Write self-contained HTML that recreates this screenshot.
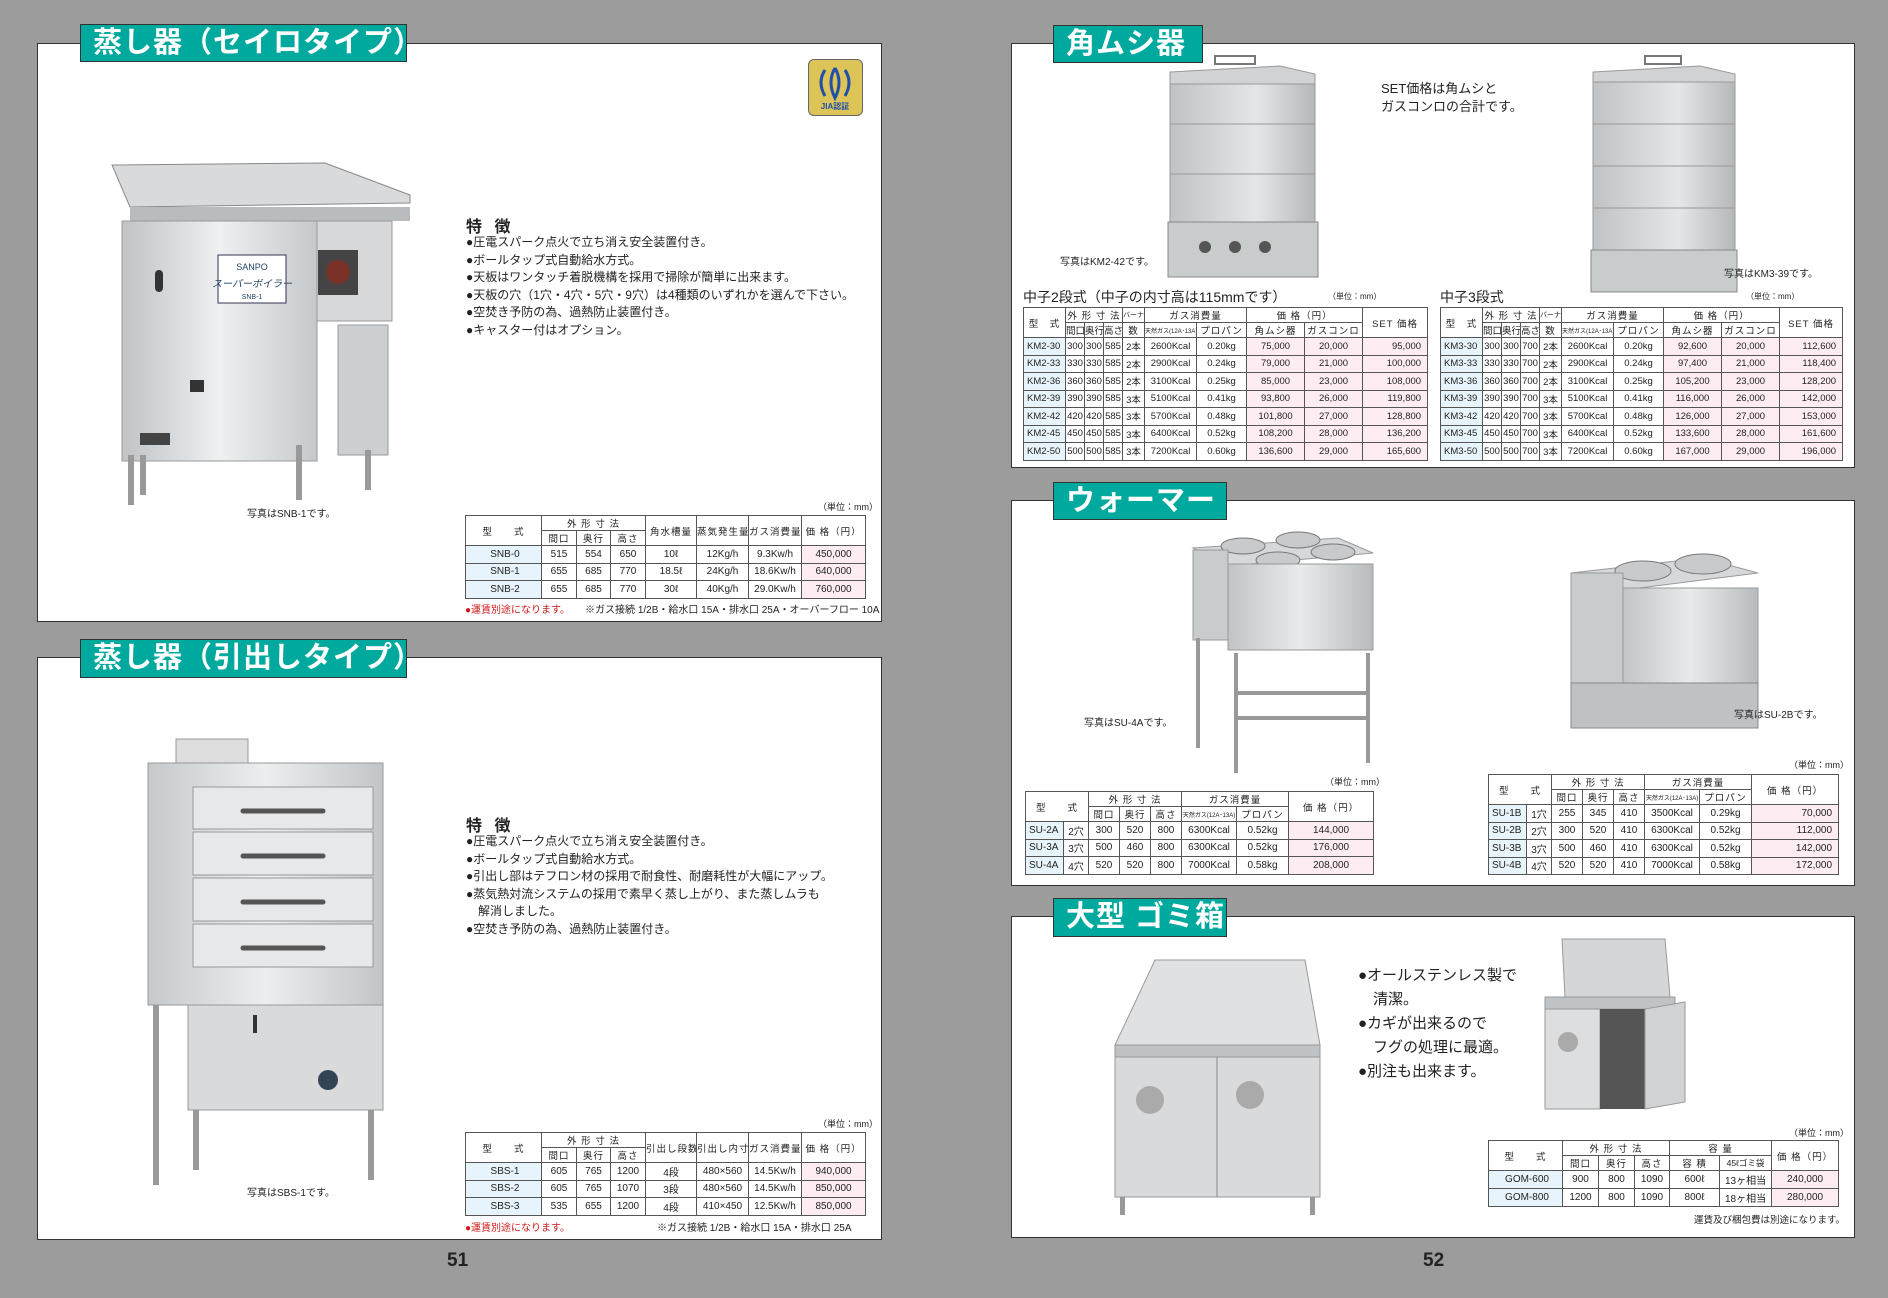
<!DOCTYPE html>
<html><head><meta charset="utf-8"><style>
*{margin:0;padding:0;box-sizing:border-box}
body{width:1888px;height:1298px;background:#9c9c9c;position:relative;overflow:hidden;font-family:"Liberation Sans","Noto Sans CJK JP",sans-serif;color:#222}
.a{position:absolute}
.panel{position:absolute;background:#fff;border:1.5px solid #333}
.tab{position:absolute;background:#00a99d;border:1.5px solid #333;color:#fff;font-weight:bold;font-size:29px;line-height:36px;padding-left:12px;white-space:nowrap;letter-spacing:1px}
.t{position:absolute;border-collapse:collapse;table-layout:fixed;font-size:10px;background:#fff}
.t td{border:1px solid #555;text-align:center;padding:0;white-space:nowrap;overflow:hidden}
.t .h{font-size:9.5px;letter-spacing:1px}
.t .m{background:#e8f4fb;text-align:left;padding-left:3px}
.t .p{background:#fdedf3}
.t .r{text-align:right;padding-right:6px}
.s{font-size:10px;position:absolute;white-space:nowrap}
.f{position:absolute;font-size:12px;line-height:17.6px;white-space:nowrap}
.pg{position:absolute;font-size:19px;font-weight:bold;top:1250px}
</style></head><body>

<!-- LEFT PANEL 1 -->
<div class="panel" style="left:37px;top:43px;width:845px;height:579px"></div>
<div class="tab" style="left:80px;top:24px;width:327px;height:38px">蒸し器（セイロタイプ）</div>
<div class="a" style="left:808px;top:59px;width:55px;height:57px;background:#dcc458;border:1.5px solid #666;border-radius:6px">
<svg width="52" height="54"><g fill="none" stroke="#1f4fa8" stroke-width="3"><path d="M16 10 Q8 22 16 36 M26 8 Q18 22 26 38 Q34 22 26 8 M36 10 Q44 22 36 36"/></g><text x="26" y="49" font-size="8" fill="#1f4fa8" text-anchor="middle" font-weight="bold">JIA認証</text></svg></div>
<svg class="a" style="left:100px;top:155px" width="315" height="355">
<defs><linearGradient id="g1" x1="0" x2="1"><stop offset="0" stop-color="#bfc3c6"/><stop offset=".5" stop-color="#eef0f1"/><stop offset="1" stop-color="#c5c8ca"/></linearGradient></defs>
<path d="M12 10 L225 8 L310 40 L310 48 L30 52 Z" fill="#d8dadb" stroke="#888"/>
<rect x="30" y="52" width="280" height="14" fill="#b9bcbe"/>
<rect x="22" y="66" width="195" height="240" fill="url(#g1)" stroke="#999"/>
<rect x="217" y="66" width="75" height="100" fill="#d6d8da" stroke="#999"/>
<rect x="190" y="260" width="92" height="0" />
<rect x="218" y="95" width="40" height="45" fill="#444"/><circle cx="238" cy="117" r="12" fill="#7a3228"/>
<rect x="238" y="170" width="50" height="130" fill="#cdd0d2" stroke="#999"/>
<rect x="118" y="100" width="68" height="48" fill="#fff" stroke="#335"/>
<text x="152" y="115" font-size="9" fill="#246" text-anchor="middle">SANPO</text>
<text x="152" y="132" font-size="10" fill="#246" text-anchor="middle" font-style="italic">スーパーボイラー</text>
<text x="152" y="144" font-size="7" fill="#246" text-anchor="middle">SNB-1</text>
<rect x="55" y="115" width="8" height="22" rx="4" fill="#333"/>
<rect x="90" y="225" width="14" height="12" fill="#333"/>
<rect x="28" y="300" width="6" height="50" fill="#999"/><rect x="40" y="300" width="6" height="40" fill="#999"/>
<rect x="196" y="290" width="6" height="55" fill="#999"/><rect x="265" y="295" width="6" height="40" fill="#999"/>
<rect x="40" y="278" width="30" height="12" fill="#444"/>
</svg>
<div class="s" style="left:247px;top:505px">写真はSNB-1です。</div>
<div class="a" style="left:466px;top:213px;font-size:16px;font-weight:bold;letter-spacing:4px">特 徴</div>
<div class="f" style="left:466px;top:234px">●圧電スパーク点火で立ち消え安全装置付き。<br>●ボールタップ式自動給水方式。<br>●天板はワンタッチ着脱機構を採用で掃除が簡単に出来ます。<br>●天板の穴（1穴・4穴・5穴・9穴）は4種類のいずれかを選んで下さい。<br>●空焚き予防の為、過熱防止装置付き。<br>●キャスター付はオプション。</div>
<div class="s" style="left:818px;top:500px;font-size:9px">（単位：mm）</div>
<table class="t" style="left:465px;top:515px;width:400px">
<colgroup><col style="width:76px"><col style="width:35px"><col style="width:34px"><col style="width:35px"><col style="width:51px"><col style="width:52px"><col style="width:53px"><col style="width:64px"></colgroup>
<tr style="height:15px"><td rowspan="2" class="h">型　　式</td><td colspan="3" class="h">外 形 寸 法</td><td rowspan="2" class="h">角水槽量</td><td rowspan="2" class="h">蒸気発生量</td><td rowspan="2" class="h">ガス消費量</td><td rowspan="2" class="h">価 格（円）</td></tr>
<tr style="height:15px"><td class="h">間口</td><td class="h">奥行</td><td class="h">高さ</td></tr>
<tr style="height:17.5px"><td class="m" style="text-align:center">SNB-0</td><td>515</td><td>554</td><td>650</td><td>10ℓ</td><td>12Kg/h</td><td>9.3Kw/h</td><td class="p">450,000</td></tr>
<tr style="height:17.5px"><td class="m" style="text-align:center">SNB-1</td><td>655</td><td>685</td><td>770</td><td>18.5ℓ</td><td>24Kg/h</td><td>18.6Kw/h</td><td class="p">640,000</td></tr>
<tr style="height:17.5px"><td class="m" style="text-align:center">SNB-2</td><td>655</td><td>685</td><td>770</td><td>30ℓ</td><td>40Kg/h</td><td>29.0Kw/h</td><td class="p">760,000</td></tr>
</table>
<div class="s" style="left:465px;top:601px"><span style="color:#d01818">●運賃別途になります。</span>　　※ガス接続 1/2B・給水口 15A・排水口 25A・オーバーフロー 10A</div>

<!-- LEFT PANEL 2 -->
<div class="panel" style="left:37px;top:657px;width:845px;height:583px"></div>
<div class="tab" style="left:80px;top:639px;width:327px;height:39px">蒸し器（引出しタイプ）</div>
<svg class="a" style="left:143px;top:735px" width="250" height="455">
<defs><linearGradient id="g2" x1="0" x2="1"><stop offset="0" stop-color="#c6c9cb"/><stop offset=".5" stop-color="#eceeef"/><stop offset="1" stop-color="#c2c5c7"/></linearGradient></defs>
<rect x="33" y="4" width="72" height="25" fill="#ddd" stroke="#999"/>
<path d="M5 28 L240 28 L240 270 L5 270 Z" fill="url(#g2)" stroke="#999"/>
<g fill="#e6e8e9" stroke="#999"><rect x="50" y="52" width="180" height="42"/><rect x="50" y="97" width="180" height="43"/><rect x="50" y="143" width="180" height="43"/><rect x="50" y="189" width="180" height="43"/></g>
<g stroke="#555" stroke-width="5" stroke-linecap="round"><line x1="100" y1="76" x2="180" y2="76"/><line x1="100" y1="121" x2="180" y2="121"/><line x1="100" y1="167" x2="180" y2="167"/><line x1="100" y1="213" x2="180" y2="213"/></g>
<rect x="45" y="270" width="195" height="105" fill="#d8dadc" stroke="#999"/>
<rect x="110" y="280" width="4" height="18" fill="#333"/>
<circle cx="185" cy="345" r="10" fill="#345"/>
<g fill="#999"><rect x="10" y="270" width="6" height="180"/><rect x="50" y="375" width="6" height="60"/><rect x="225" y="375" width="6" height="70"/></g>
</svg>
<div class="s" style="left:247px;top:1184px">写真はSBS-1です。</div>
<div class="a" style="left:466px;top:812px;font-size:16px;font-weight:bold;letter-spacing:4px">特 徴</div>
<div class="f" style="left:466px;top:833px">●圧電スパーク点火で立ち消え安全装置付き。<br>●ボールタップ式自動給水方式。<br>●引出し部はテフロン材の採用で耐食性、耐磨耗性が大幅にアップ。<br>●蒸気熱対流システムの採用で素早く蒸し上がり、また蒸しムラも<br>　解消しました。<br>●空焚き予防の為、過熱防止装置付き。</div>
<div class="s" style="left:818px;top:1117px;font-size:9px">（単位：mm）</div>
<table class="t" style="left:465px;top:1132px;width:400px">
<colgroup><col style="width:76px"><col style="width:35px"><col style="width:34px"><col style="width:35px"><col style="width:51px"><col style="width:52px"><col style="width:53px"><col style="width:64px"></colgroup>
<tr style="height:15px"><td rowspan="2" class="h">型　　式</td><td colspan="3" class="h">外 形 寸 法</td><td rowspan="2" class="h">引出し段数</td><td rowspan="2" class="h">引出し内寸</td><td rowspan="2" class="h">ガス消費量</td><td rowspan="2" class="h">価 格（円）</td></tr>
<tr style="height:15px"><td class="h">間口</td><td class="h">奥行</td><td class="h">高さ</td></tr>
<tr style="height:17.5px"><td class="m" style="text-align:center">SBS-1</td><td>605</td><td>765</td><td>1200</td><td>4段</td><td>480×560</td><td>14.5Kw/h</td><td class="p">940,000</td></tr>
<tr style="height:17.5px"><td class="m" style="text-align:center">SBS-2</td><td>605</td><td>765</td><td>1070</td><td>3段</td><td>480×560</td><td>14.5Kw/h</td><td class="p">850,000</td></tr>
<tr style="height:17.5px"><td class="m" style="text-align:center">SBS-3</td><td>535</td><td>655</td><td>1200</td><td>4段</td><td>410×450</td><td>12.5Kw/h</td><td class="p">850,000</td></tr>
</table>
<div class="s" style="left:465px;top:1219px"><span style="color:#d01818">●運賃別途になります。</span></div>
<div class="s" style="left:657px;top:1219px">※ガス接続 1/2B・給水口 15A・排水口 25A</div>
<div class="pg" style="left:447px">51</div>

<!-- RIGHT PANEL 1 -->
<div class="panel" style="left:1011px;top:43px;width:844px;height:425px"></div>
<div class="tab" style="left:1053px;top:25px;width:150px;height:38px">角ムシ器</div>
<svg class="a" style="left:1160px;top:52px" width="160" height="235">
<defs><linearGradient id="g3" x1="0" x2="1"><stop offset="0" stop-color="#c0c3c5"/><stop offset=".6" stop-color="#e4e6e7"/><stop offset="1" stop-color="#b5b8ba"/></linearGradient></defs>
<rect x="55" y="4" width="40" height="8" fill="none" stroke="#777" stroke-width="2"/>
<path d="M10 20 L120 14 L155 22 L155 32 L10 32 Z" fill="#d0d2d4" stroke="#999"/>
<rect x="10" y="32" width="145" height="40" fill="url(#g3)" stroke="#999"/>
<rect x="10" y="72" width="145" height="50" fill="url(#g3)" stroke="#999"/>
<rect x="10" y="122" width="145" height="48" fill="url(#g3)" stroke="#999"/>
<rect x="8" y="170" width="150" height="55" fill="#c9cccd" stroke="#888"/>
<g fill="#555"><circle cx="45" cy="195" r="6"/><circle cx="75" cy="195" r="6"/><circle cx="105" cy="195" r="6"/></g>
</svg>
<div class="s" style="left:1060px;top:253px">写真はKM2-42です。</div>
<div class="a" style="left:1381px;top:80px;font-size:13px;line-height:18px">SET価格は角ムシと<br>ガスコンロの合計です。</div>
<svg class="a" style="left:1585px;top:52px" width="155" height="245">
<rect x="60" y="4" width="36" height="8" fill="none" stroke="#777" stroke-width="2"/>
<path d="M8 20 L115 14 L150 22 L150 30 L8 30 Z" fill="#d0d2d4" stroke="#999"/>
<rect x="8" y="30" width="142" height="42" fill="url(#g3)" stroke="#999"/>
<rect x="8" y="72" width="142" height="42" fill="url(#g3)" stroke="#999"/>
<rect x="8" y="114" width="142" height="42" fill="url(#g3)" stroke="#999"/>
<rect x="8" y="156" width="142" height="42" fill="url(#g3)" stroke="#999"/>
<rect x="6" y="198" width="146" height="42" fill="#c9cccd" stroke="#888"/>
</svg>
<div class="s" style="left:1724px;top:265px">写真はKM3-39です。</div>
<div class="a" style="left:1023px;top:287px;font-size:14px;white-space:nowrap">中子2段式（中子の内寸高は115mmです）</div>
<div class="s" style="left:1328px;top:291px;font-size:8px">（単位：mm）</div>
<div class="a" style="left:1440px;top:287px;font-size:14px;white-space:nowrap">中子3段式</div>
<div class="s" style="left:1746px;top:291px;font-size:8px">（単位：mm）</div>
<table class="t" style="left:1023px;top:307px;width:404px;font-size:9.5px">
<colgroup><col style="width:42px"><col style="width:19px"><col style="width:19px"><col style="width:19px"><col style="width:22px"><col style="width:52px"><col style="width:50px"><col style="width:58px"><col style="width:58px"><col style="width:65px"></colgroup>
<tr style="height:13px"><td rowspan="2" class="h">型　式</td><td colspan="3" class="h">外 形 寸 法</td><td class="h" style="font-size:7px;letter-spacing:0">バーナー</td><td colspan="2" class="h">ガス消費量</td><td colspan="2" class="h">価 格（円）</td><td rowspan="2" class="h">SET 価格</td></tr>
<tr style="height:14px"><td class="h" style="letter-spacing:0">間口</td><td class="h" style="letter-spacing:0">奥行</td><td class="h" style="letter-spacing:0">高さ</td><td class="h">数</td><td class="h" style="font-size:6px;letter-spacing:0">天然ガス(12A･13A)</td><td class="h">プロパン</td><td class="h">角ムシ器</td><td class="h">ガスコンロ</td></tr>
<tr style="height:17.5px"><td class="m">KM2-30</td><td>300</td><td>300</td><td>585</td><td>2本</td><td>2600Kcal</td><td>0.20kg</td><td class="p">75,000</td><td class="p">20,000</td><td class="p r">95,000</td></tr>
<tr style="height:17.5px"><td class="m">KM2-33</td><td>330</td><td>330</td><td>585</td><td>2本</td><td>2900Kcal</td><td>0.24kg</td><td class="p">79,000</td><td class="p">21,000</td><td class="p r">100,000</td></tr>
<tr style="height:17.5px"><td class="m">KM2-36</td><td>360</td><td>360</td><td>585</td><td>2本</td><td>3100Kcal</td><td>0.25kg</td><td class="p">85,000</td><td class="p">23,000</td><td class="p r">108,000</td></tr>
<tr style="height:17.5px"><td class="m">KM2-39</td><td>390</td><td>390</td><td>585</td><td>3本</td><td>5100Kcal</td><td>0.41kg</td><td class="p">93,800</td><td class="p">26,000</td><td class="p r">119,800</td></tr>
<tr style="height:17.5px"><td class="m">KM2-42</td><td>420</td><td>420</td><td>585</td><td>3本</td><td>5700Kcal</td><td>0.48kg</td><td class="p">101,800</td><td class="p">27,000</td><td class="p r">128,800</td></tr>
<tr style="height:17.5px"><td class="m">KM2-45</td><td>450</td><td>450</td><td>585</td><td>3本</td><td>6400Kcal</td><td>0.52kg</td><td class="p">108,200</td><td class="p">28,000</td><td class="p r">136,200</td></tr>
<tr style="height:17.5px"><td class="m">KM2-50</td><td>500</td><td>500</td><td>585</td><td>3本</td><td>7200Kcal</td><td>0.60kg</td><td class="p">136,600</td><td class="p">29,000</td><td class="p r">165,600</td></tr>
</table>
<table class="t" style="left:1440px;top:307px;width:402px;font-size:9.5px">
<colgroup><col style="width:42px"><col style="width:19px"><col style="width:19px"><col style="width:19px"><col style="width:22px"><col style="width:52px"><col style="width:50px"><col style="width:58px"><col style="width:58px"><col style="width:63px"></colgroup>
<tr style="height:13px"><td rowspan="2" class="h">型　式</td><td colspan="3" class="h">外 形 寸 法</td><td class="h" style="font-size:7px;letter-spacing:0">バーナー</td><td colspan="2" class="h">ガス消費量</td><td colspan="2" class="h">価 格（円）</td><td rowspan="2" class="h">SET 価格</td></tr>
<tr style="height:14px"><td class="h" style="letter-spacing:0">間口</td><td class="h" style="letter-spacing:0">奥行</td><td class="h" style="letter-spacing:0">高さ</td><td class="h">数</td><td class="h" style="font-size:6px;letter-spacing:0">天然ガス(12A･13A)</td><td class="h">プロパン</td><td class="h">角ムシ器</td><td class="h">ガスコンロ</td></tr>
<tr style="height:17.5px"><td class="m">KM3-30</td><td>300</td><td>300</td><td>700</td><td>2本</td><td>2600Kcal</td><td>0.20kg</td><td class="p">92,600</td><td class="p">20,000</td><td class="p r">112,600</td></tr>
<tr style="height:17.5px"><td class="m">KM3-33</td><td>330</td><td>330</td><td>700</td><td>2本</td><td>2900Kcal</td><td>0.24kg</td><td class="p">97,400</td><td class="p">21,000</td><td class="p r">118,400</td></tr>
<tr style="height:17.5px"><td class="m">KM3-36</td><td>360</td><td>360</td><td>700</td><td>2本</td><td>3100Kcal</td><td>0.25kg</td><td class="p">105,200</td><td class="p">23,000</td><td class="p r">128,200</td></tr>
<tr style="height:17.5px"><td class="m">KM3-39</td><td>390</td><td>390</td><td>700</td><td>3本</td><td>5100Kcal</td><td>0.41kg</td><td class="p">116,000</td><td class="p">26,000</td><td class="p r">142,000</td></tr>
<tr style="height:17.5px"><td class="m">KM3-42</td><td>420</td><td>420</td><td>700</td><td>3本</td><td>5700Kcal</td><td>0.48kg</td><td class="p">126,000</td><td class="p">27,000</td><td class="p r">153,000</td></tr>
<tr style="height:17.5px"><td class="m">KM3-45</td><td>450</td><td>450</td><td>700</td><td>3本</td><td>6400Kcal</td><td>0.52kg</td><td class="p">133,600</td><td class="p">28,000</td><td class="p r">161,600</td></tr>
<tr style="height:17.5px"><td class="m">KM3-50</td><td>500</td><td>500</td><td>700</td><td>3本</td><td>7200Kcal</td><td>0.60kg</td><td class="p">167,000</td><td class="p">29,000</td><td class="p r">196,000</td></tr>
</table>

<!-- RIGHT PANEL 2 -->
<div class="panel" style="left:1011px;top:500px;width:844px;height:386px"></div>
<div class="tab" style="left:1053px;top:482px;width:174px;height:38px">ウォーマー</div>
<svg class="a" style="left:1188px;top:518px" width="190" height="262">
<defs><linearGradient id="g4" x1="0" x2="1"><stop offset="0" stop-color="#c2c5c7"/><stop offset=".5" stop-color="#e8eaeb"/><stop offset="1" stop-color="#b8bbbd"/></linearGradient></defs>
<path d="M5 30 L150 20 L185 35 L40 48 Z" fill="#d6d8da" stroke="#999"/>
<g fill="#c8cacc" stroke="#777"><ellipse cx="55" cy="28" rx="22" ry="8"/><ellipse cx="110" cy="22" rx="22" ry="8"/><ellipse cx="90" cy="42" rx="22" ry="8"/><ellipse cx="145" cy="34" rx="22" ry="8"/></g>
<rect x="5" y="32" width="35" height="90" fill="#c9cccd" stroke="#999"/>
<rect x="40" y="46" width="145" height="86" fill="url(#g4)" stroke="#999"/>
<g stroke="#999" stroke-width="4" fill="none"><line x1="10" y1="120" x2="10" y2="230"/><line x1="48" y1="135" x2="48" y2="255"/><line x1="180" y1="135" x2="180" y2="245"/><line x1="48" y1="175" x2="180" y2="175"/><line x1="48" y1="200" x2="180" y2="200"/></g>
</svg>
<div class="s" style="left:1084px;top:714px">写真はSU-4Aです。</div>
<svg class="a" style="left:1563px;top:528px" width="200" height="210">
<path d="M8 45 L140 30 L195 45 L60 62 Z" fill="#d6d8da" stroke="#999"/>
<g fill="#c8cacc" stroke="#777"><ellipse cx="80" cy="43" rx="28" ry="10"/><ellipse cx="140" cy="36" rx="28" ry="10"/></g>
<rect x="8" y="45" width="52" height="110" fill="#c9cccd" stroke="#999"/>
<rect x="60" y="60" width="135" height="95" fill="url(#g4)" stroke="#999"/>
<rect x="8" y="155" width="187" height="45" fill="#bfc2c4" stroke="#888"/>
</svg>
<div class="s" style="left:1734px;top:706px">写真はSU-2Bです。</div>
<div class="s" style="left:1325px;top:775px;font-size:9px">（単位：mm）</div>
<table class="t" style="left:1025px;top:791px;width:348px;font-size:10px">
<colgroup><col style="width:38px"><col style="width:25px"><col style="width:31px"><col style="width:31px"><col style="width:31px"><col style="width:55px"><col style="width:52px"><col style="width:85px"></colgroup>
<tr style="height:15px"><td colspan="2" rowspan="2" class="h">型　　式</td><td colspan="3" class="h">外 形 寸 法</td><td colspan="2" class="h">ガス消費量</td><td rowspan="2" class="h">価 格（円）</td></tr>
<tr style="height:15px"><td class="h">間口</td><td class="h">奥行</td><td class="h">高さ</td><td style="font-size:6px">天然ガス(12A･13A)</td><td class="h">プロパン</td></tr>
<tr style="height:17.5px"><td class="m">SU-2A</td><td>2穴</td><td>300</td><td>520</td><td>800</td><td>6300Kcal</td><td>0.52kg</td><td class="p">144,000</td></tr>
<tr style="height:17.5px"><td class="m">SU-3A</td><td>3穴</td><td>500</td><td>460</td><td>800</td><td>6300Kcal</td><td>0.52kg</td><td class="p">176,000</td></tr>
<tr style="height:17.5px"><td class="m">SU-4A</td><td>4穴</td><td>520</td><td>520</td><td>800</td><td>7000Kcal</td><td>0.58kg</td><td class="p">208,000</td></tr>
</table>
<div class="s" style="left:1789px;top:758px;font-size:9px">（単位：mm）</div>
<table class="t" style="left:1488px;top:774px;width:350px;font-size:10px">
<colgroup><col style="width:38px"><col style="width:25px"><col style="width:31px"><col style="width:31px"><col style="width:31px"><col style="width:55px"><col style="width:52px"><col style="width:87px"></colgroup>
<tr style="height:15px"><td colspan="2" rowspan="2" class="h">型　　式</td><td colspan="3" class="h">外 形 寸 法</td><td colspan="2" class="h">ガス消費量</td><td rowspan="2" class="h">価 格（円）</td></tr>
<tr style="height:15px"><td class="h">間口</td><td class="h">奥行</td><td class="h">高さ</td><td style="font-size:6px">天然ガス(12A･13A)</td><td class="h">プロパン</td></tr>
<tr style="height:17.5px"><td class="m">SU-1B</td><td>1穴</td><td>255</td><td>345</td><td>410</td><td>3500Kcal</td><td>0.29kg</td><td class="p r">70,000</td></tr>
<tr style="height:17.5px"><td class="m">SU-2B</td><td>2穴</td><td>300</td><td>520</td><td>410</td><td>6300Kcal</td><td>0.52kg</td><td class="p r">112,000</td></tr>
<tr style="height:17.5px"><td class="m">SU-3B</td><td>3穴</td><td>500</td><td>460</td><td>410</td><td>6300Kcal</td><td>0.52kg</td><td class="p r">142,000</td></tr>
<tr style="height:17.5px"><td class="m">SU-4B</td><td>4穴</td><td>520</td><td>520</td><td>410</td><td>7000Kcal</td><td>0.58kg</td><td class="p r">172,000</td></tr>
</table>

<!-- RIGHT PANEL 3 -->
<div class="panel" style="left:1011px;top:916px;width:844px;height:322px"></div>
<div class="tab" style="left:1053px;top:898px;width:174px;height:39px">大型 ゴミ箱</div>
<svg class="a" style="left:1105px;top:955px" width="218" height="265">
<path d="M50 5 L200 5 L215 90 L10 90 Z" fill="#dfe1e2" stroke="#999"/>
<rect x="10" y="90" width="205" height="12" fill="#bfc2c4" stroke="#999"/>
<rect x="10" y="102" width="205" height="140" fill="#d8dadc" stroke="#999"/>
<line x1="112" y1="102" x2="112" y2="242" stroke="#888"/>
<g fill="#aaa"><circle cx="45" cy="145" r="14"/><circle cx="145" cy="140" r="14"/></g>
<g fill="#999"><rect x="15" y="242" width="5" height="18"/><rect x="205" y="242" width="5" height="18"/></g>
</svg>
<div class="a" style="left:1358px;top:964px;font-size:15px;line-height:24px;white-space:nowrap">●オールステンレス製で<br>　清潔。<br>●カギが出来るので<br>　フグの処理に最適。<br>●別注も出来ます。</div>
<svg class="a" style="left:1540px;top:937px" width="150" height="192">
<path d="M22 2 L125 2 L130 60 L25 60 Z" fill="#d4d6d8" stroke="#999"/>
<rect x="5" y="60" width="130" height="12" fill="#c0c3c5" stroke="#999"/>
<rect x="5" y="72" width="55" height="100" fill="#dcdedf" stroke="#999"/>
<rect x="60" y="72" width="45" height="100" fill="#555"/>
<path d="M105 72 L145 65 L145 165 L105 172 Z" fill="#d0d2d4" stroke="#999"/>
<circle cx="28" cy="105" r="10" fill="#aaa"/>
</svg>
<div class="s" style="left:1789px;top:1126px;font-size:9px">（単位：mm）</div>
<table class="t" style="left:1488px;top:1140px;width:350px;font-size:10px">
<colgroup><col style="width:74px"><col style="width:36px"><col style="width:36px"><col style="width:35px"><col style="width:50px"><col style="width:52px"><col style="width:67px"></colgroup>
<tr style="height:15px"><td rowspan="2" class="h">型　　式</td><td colspan="3" class="h">外 形 寸 法</td><td colspan="2" class="h">容 量</td><td rowspan="2" class="h">価 格（円）</td></tr>
<tr style="height:15px"><td class="h">間口</td><td class="h">奥行</td><td class="h">高さ</td><td class="h">容 積</td><td style="font-size:8.5px">45ℓゴミ袋</td></tr>
<tr style="height:18px"><td class="m" style="text-align:center">GOM-600</td><td>900</td><td>800</td><td>1090</td><td>600ℓ</td><td>13ヶ相当</td><td class="p">240,000</td></tr>
<tr style="height:18px"><td class="m" style="text-align:center">GOM-800</td><td>1200</td><td>800</td><td>1090</td><td>800ℓ</td><td>18ヶ相当</td><td class="p">280,000</td></tr>
</table>
<div class="s" style="left:1694px;top:1212px;font-size:9.5px">運賃及び梱包費は別途になります。</div>
<div class="pg" style="left:1423px">52</div>
</body></html>
